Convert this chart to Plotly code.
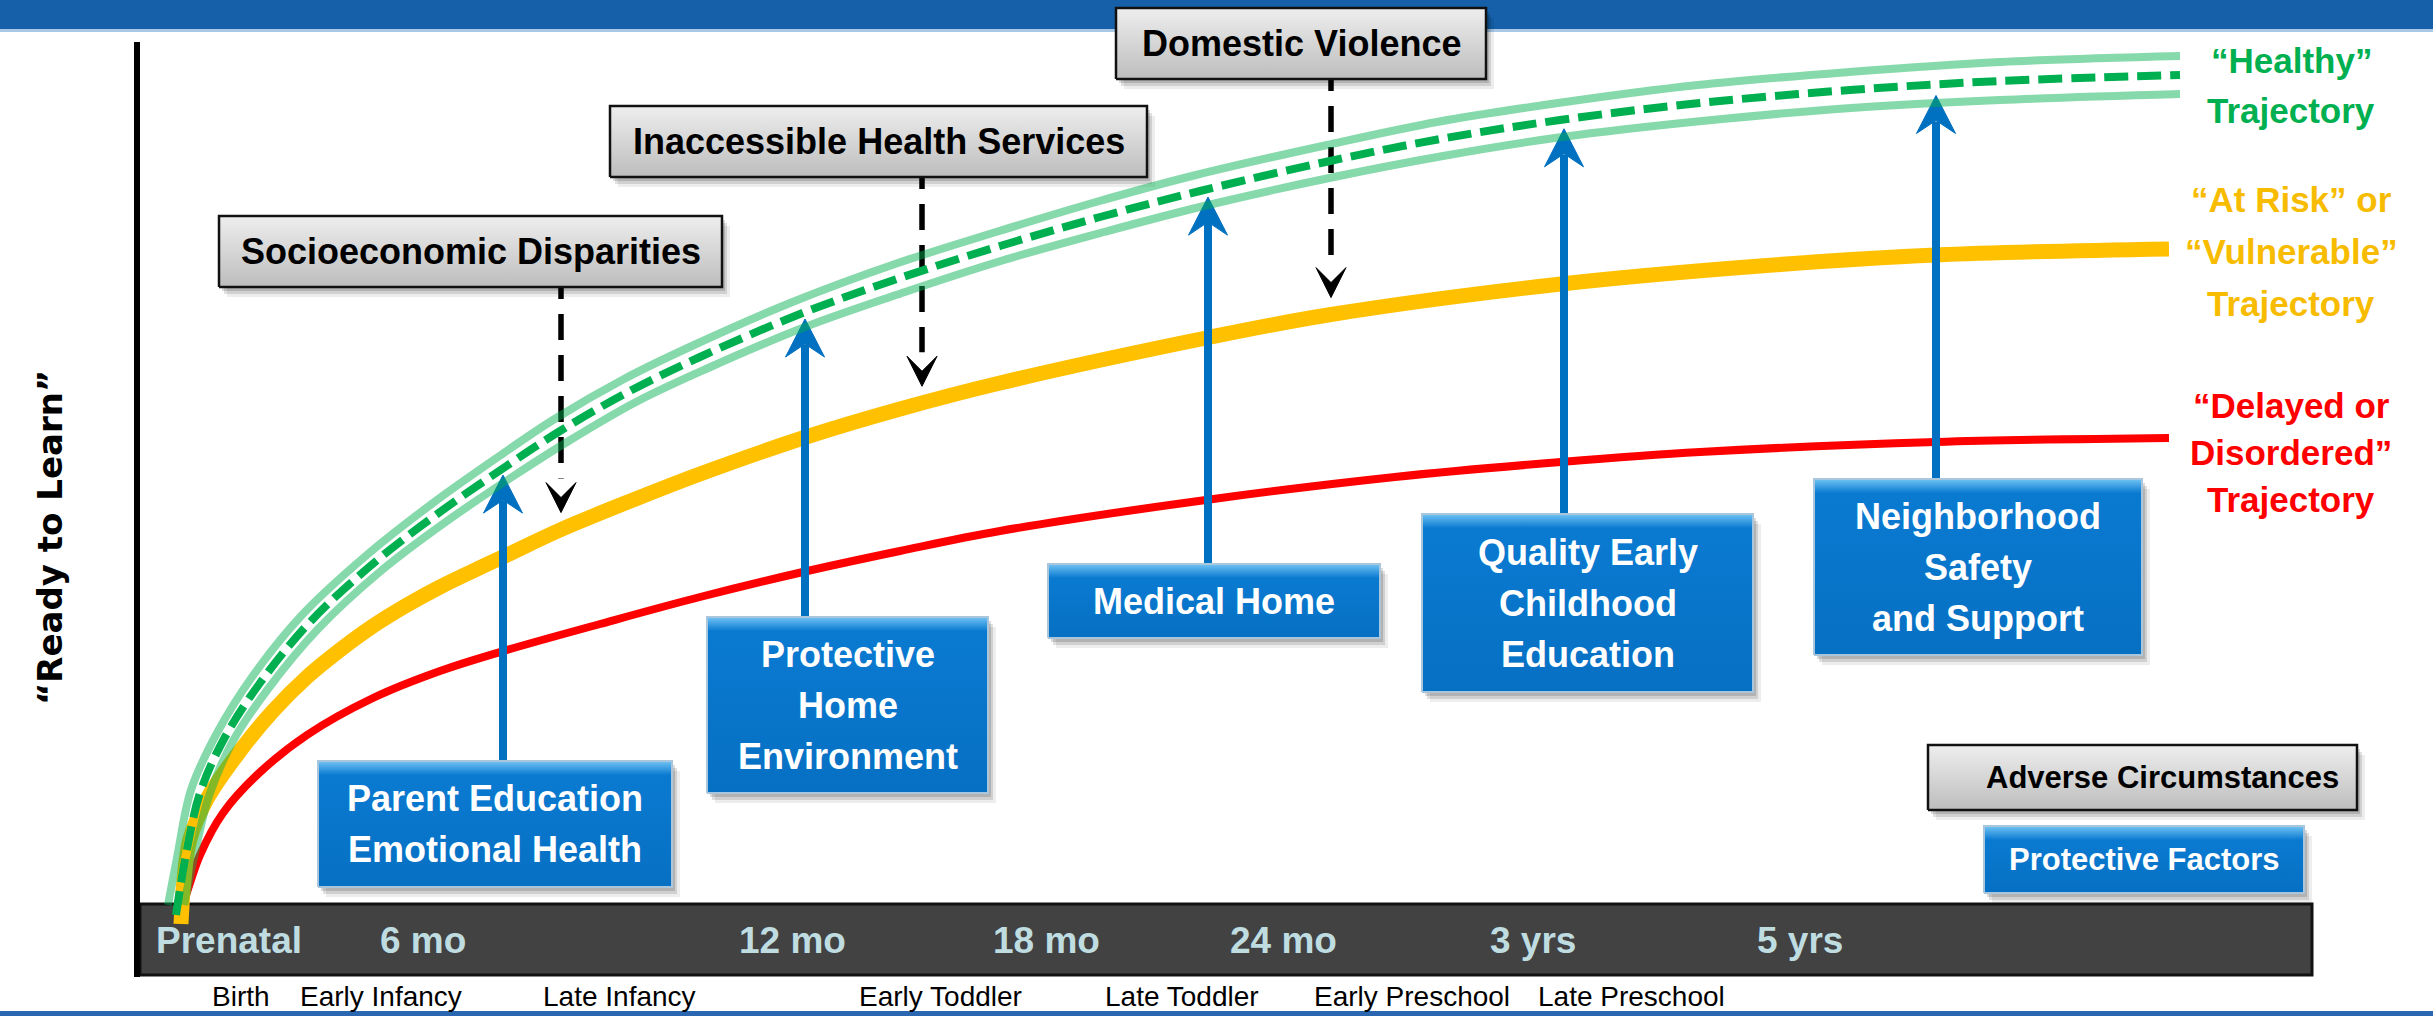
import numpy as np
import plotly.graph_objects as go

# ---------------- data ----------------
age_ticks = ["Prenatal", "6 mo", "12 mo", "18 mo", "24 mo", "3 yrs", "5 yrs"]
age_tick_pos = [229, 423, 792, 1046, 1283, 1533, 1800]

stages = ["Birth", "Early Infancy", "Late Infancy", "Early Toddler",
          "Late Toddler", "Early Preschool", "Late Preschool"]
stage_pos = [241, 381, 619, 940, 1182, 1412, 1631]

# "Healthy" trajectory (centre dashed line and its light band edges)
healthy_x = [176, 185, 200, 225, 260, 310, 375, 440, 505, 560, 630, 700, 800, 900,
             1000, 1100, 1200, 1330, 1440, 1560, 1700, 1850, 2000, 2180]
healthy_y = [-10, 45, 112, 168, 222, 283, 343, 393, 438, 474, 514, 548, 591, 627,
             659, 688, 714, 744, 766, 785, 802, 815, 824, 830]
healthy_hi_x = [168, 177, 191, 217, 252, 302, 368, 433, 498, 553, 624, 694, 795, 895,
                996, 1096, 1196, 1327, 1437, 1558, 1698, 1849, 2000, 2180]
healthy_hi_y = [0, 47, 115, 172, 228, 290, 351, 402, 448, 485, 526, 560, 604, 641,
                673, 703, 730, 760, 783, 802, 820, 833, 843, 849]
healthy_lo_x = [184, 193, 209, 233, 268, 318, 382, 447, 512, 567, 636, 706, 805, 905,
                1004, 1104, 1204, 1334, 1443, 1562, 1702, 1851, 2000, 2180]
healthy_lo_y = [0, 43, 109, 164, 216, 276, 335, 384, 428, 463, 503, 536, 578, 613,
                645, 673, 699, 728, 749, 768, 784, 797, 805, 811]

# "At Risk" / "Vulnerable" trajectory
at_risk_x = [181, 184, 190, 207, 240, 273, 307, 340, 373, 407, 440, 473, 507, 560, 633,
             700, 803, 900, 1000, 1206, 1328, 1561, 1760, 1936, 2169]
at_risk_y = [-19, 25, 66, 106, 154, 194, 228, 255, 279, 300, 318, 334, 350, 375, 405,
             431, 467, 496, 522, 567, 590, 621, 639, 650, 656]

# "Delayed or Disordered" trajectory
delayed_x = [183, 190, 200, 223, 257, 307, 373, 440, 507, 600, 700, 803, 900, 1000,
             1206, 1395, 1561, 1700, 1936, 2169]
delayed_y = [0, 22, 50, 92, 130, 170, 207, 234, 255, 281, 308, 333, 354, 374,
             405, 428, 443, 453, 463, 467]

# Protective factors (lift toward the healthy trajectory)
protective_labels = [["Parent Education", "Emotional Health"],
                     ["Protective", "Home", "Environment"],
                     ["Medical Home"],
                     ["Quality Early", "Childhood", "Education"],
                     ["Neighborhood", "Safety", "and Support"]]
protective_x = [503, 805, 1208, 1564, 1936]

# Adverse circumstances (push toward the at-risk trajectory)
adverse_labels = ["Socioeconomic Disparities", "Inaccessible Health Services", "Domestic Violence"]
adverse_x = [561, 922, 1331]

trajectory_labels = [["\u201cHealthy\u201d", "Trajectory"],
                     ["\u201cAt Risk\u201d or", "\u201cVulnerable\u201d", "Trajectory"],
                     ["\u201cDelayed or", "Disordered\u201d", "Trajectory"]]

# ---------------- layout geometry (pixel rows) ----------------
W, H = 2433, 1016
BASE = 905


def Y(p):
    return BASE - p


protective_boxes = [(318, 672, 761, 887), (707, 988, 617, 793), (1048, 1380, 564, 638),
                    (1422, 1753, 514, 692), (1814, 2142, 479, 655)]
adverse_boxes = [(219, 722, 216, 287), (610, 1147, 106, 177), (1116, 1486, 8, 79)]

FONT = "Liberation Sans, Arial, Helvetica, sans-serif"
BLUE = "#0070C0"
GREEN = "#00B050"
GREEN_LIGHT = "rgba(0,176,80,0.48)"
YELLOW = "#FFC000"
RED = "#FF0000"

fig = go.Figure()
annotations = []


def add_line(x, y, color, width, dash=None, smoothing=1.0, shape="spline"):
    fig.add_trace(go.Scatter(x=x, y=y, mode="lines",
                             line=dict(color=color, width=width, dash=dash,
                                       shape=shape, smoothing=smoothing),
                             hoverinfo="skip", showlegend=False))


def add_poly(x, y, color, line_color=None, line_width=0):
    fig.add_trace(go.Scatter(x=x, y=y, mode="lines", fill="toself", fillcolor=color,
                             line=dict(color=line_color or color, width=line_width),
                             hoverinfo="skip", showlegend=False))


def add_box(x0, x1, top, bot, colorscale, border, bw):
    for dx, dy, a in [(8, 10, 0.07), (5, 7, 0.12), (3, 4, 0.14)]:
        add_poly([x0 + dx, x1 + dx, x1 + dx, x0 + dx, x0 + dx],
                 [Y(bot + dy), Y(bot + dy), Y(top + dy), Y(top + dy), Y(bot + dy)],
                 "rgba(0,0,0,%.2f)" % a)
    fig.add_trace(go.Scatter(x=[x0, x1, x1, x0, x0],
                             y=[Y(bot), Y(bot), Y(top), Y(top), Y(bot)],
                             mode="lines", fill="toself",
                             fillgradient=dict(type="vertical", colorscale=colorscale),
                             line=dict(color=border, width=bw),
                             hoverinfo="skip", showlegend=False))


def add_text(x, y, text, size, color, bold=True, family=FONT, angle=0, xanchor="center"):
    annotations.append(dict(x=x, y=y, xref="x", yref="y", text=text, showarrow=False,
                            textangle=angle, xanchor=xanchor, yanchor="middle",
                            font=dict(family=family, size=size, color=color,
                                      weight="bold" if bold else "normal")))


# ---------------- trajectories (lower ones first) ----------------
add_line(delayed_x, delayed_y, RED, 8)
add_line(at_risk_x, at_risk_y, YELLOW, 15)

# ---------------- protective arrows ----------------
tips_p = np.interp(protective_x, healthy_lo_x, healthy_lo_y) + 8
for x, tip, (bx0, bx1, btop, bbot) in zip(protective_x, tips_p, protective_boxes):
    add_line([x, x], [Y(btop), tip - 26], BLUE, 8, shape="linear")
    add_poly([x, x - 19.5, x, x + 19.5, x], [tip, tip - 38, tip - 25, tip - 38, tip], BLUE, BLUE, 1)

# ---------------- adverse arrows ----------------
tips_a = np.interp(adverse_x, at_risk_x, at_risk_y) + 17
for x, tip, (bx0, bx1, btop, bbot) in zip(adverse_x, tips_a, adverse_boxes):
    add_line([x, x], [Y(bbot - 14), tip + 34], "black", 5.5, dash="26px,15px", shape="linear")
    add_poly([x, x - 15, x, x + 15, x], [tip, tip + 30, tip + 15, tip + 30, tip], "black", "black", 1)

# ---------------- boxes ----------------
GRAY_CS = [[0, "#BDBDBD"], [1, "#EEEEEE"]]


def blue_cs(h):
    f = max(0.5, 1 - 14.0 / h)
    return [[0, "#0670C3"], [f, "#0A7AD1"], [1, "#72C4F4"]]


for lab, (bx0, bx1, btop, bbot) in zip(adverse_labels, adverse_boxes):
    add_box(bx0, bx1, btop, bbot, GRAY_CS, "#111111", 2.5)
    add_text((bx0 + bx1) / 2, Y((btop + bbot) / 2), lab, 36, "black")

for lines, (bx0, bx1, btop, bbot) in zip(protective_labels, protective_boxes):
    add_box(bx0, bx1, btop, bbot, blue_cs(bbot - btop), "#A9C6DD", 2)
    n = len(lines)
    cy = (btop + bbot) / 2
    for i, t in enumerate(lines):
        add_text((bx0 + bx1) / 2, Y(cy + (i - (n - 1) / 2) * 51), t, 36, "white")

# legend boxes
add_box(1928, 2357, 745, 810, GRAY_CS, "#111111", 2.5)
add_text(2162, Y(777), "Adverse Circumstances", 31, "black")
add_box(1984, 2304, 826, 893, blue_cs(67), "#A9C6DD", 2)
add_text(2144, Y(859), "Protective Factors", 31, "white")

# ---------------- healthy band on top ----------------
add_line(healthy_hi_x, healthy_hi_y, GREEN_LIGHT, 8)
add_line(healthy_lo_x, healthy_lo_y, GREEN_LIGHT, 8)
add_line(healthy_x, healthy_y, GREEN, 8, dash="24px,9px")

# ---------------- background shapes ----------------
shapes = [
    dict(type="rect", xref="x", yref="y", x0=0, x1=W, y0=Y(29), y1=Y(0),
         fillcolor="#1560A9", line_width=0, layer="below"),
    dict(type="rect", xref="x", yref="y", x0=0, x1=W, y0=Y(32), y1=Y(29),
         fillcolor="#A8C8E6", line_width=0, layer="below"),
    dict(type="rect", xref="x", yref="y", x0=0, x1=W, y0=Y(1016), y1=Y(1011),
         fillcolor="#2A67B0", line_width=0, layer="below"),
    dict(type="rect", xref="x", yref="y", x0=140, x1=2312, y0=Y(975), y1=Y(904),
         fillcolor="#424242", line=dict(color="#111111", width=3), layer="below"),
    dict(type="line", xref="x", yref="y", x0=137, x1=137, y0=Y(977), y1=Y(42),
         line=dict(color="black", width=6), layer="below"),
]

# ---------------- texts ----------------
for t, x in zip(age_ticks, age_tick_pos):
    add_text(x, Y(940), t, 37, "#BFDDE1")
for t, x in zip(stages, stage_pos):
    add_text(x, Y(996), t, 28, "black", bold=False)

traj_colors = [GREEN, "#F7BC00", RED]
traj_first = [60, 199, 405]
traj_step = [50, 52, 47]
for lines, col, y0, st in zip(trajectory_labels, traj_colors, traj_first, traj_step):
    for i, t in enumerate(lines):
        add_text(2291, Y(y0 + i * st), t, 35, col)

add_text(50, Y(538), "\u201cReady to Learn\u201d", 34, "black",
         family="DejaVu Sans, Verdana, sans-serif", angle=-90)

fig.update_layout(
    width=W, height=H, margin=dict(l=0, r=0, t=0, b=0),
    paper_bgcolor="white", plot_bgcolor="white",
    xaxis=dict(range=[0, W], visible=False, fixedrange=True),
    yaxis=dict(range=[Y(H), Y(0)], visible=False, fixedrange=True),
    showlegend=False, hovermode=False,
    shapes=shapes, annotations=annotations,
)

fig.write_html("out.html", config={"displayModeBar": False},
               post_script="document.body.style.margin='0';document.body.style.overflow='hidden';")
